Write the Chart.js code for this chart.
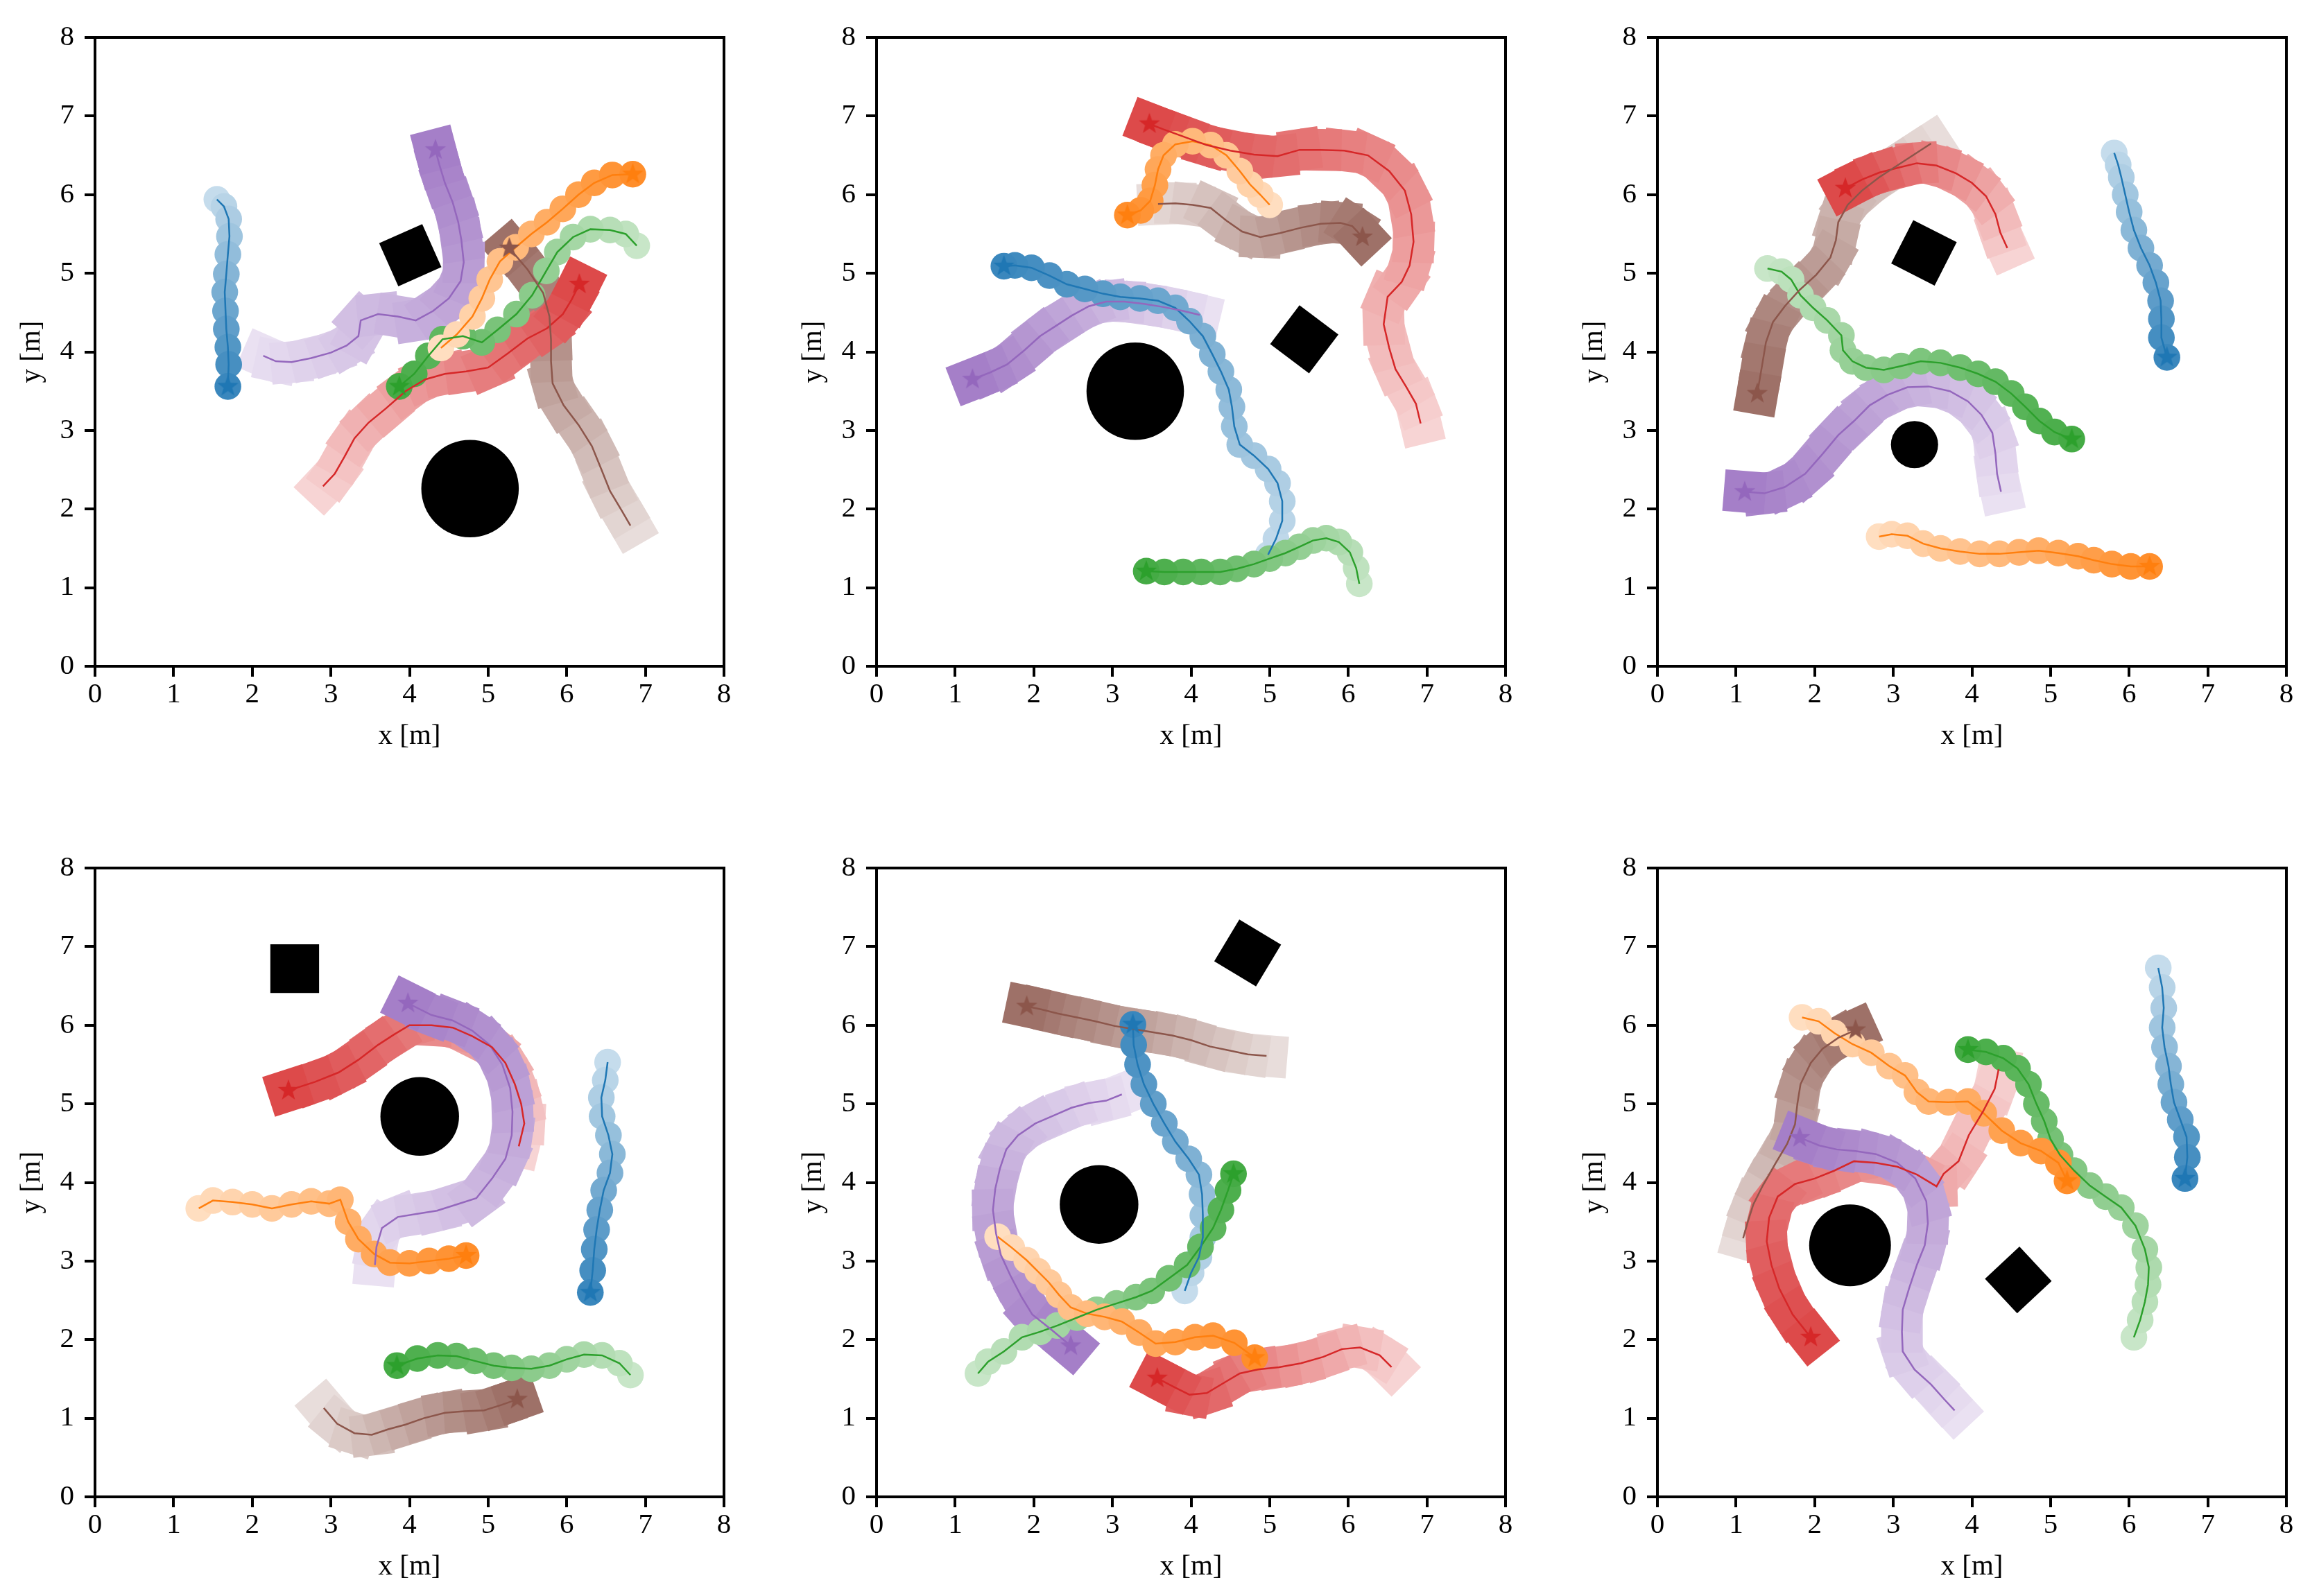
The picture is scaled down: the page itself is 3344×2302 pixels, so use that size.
<!DOCTYPE html>
<html>
<head>
<meta charset="utf-8">
<script src="https://cdn.jsdelivr.net/npm/chart.js@4.4.0/dist/chart.umd.min.js"></script>
<style>
  body { margin: 0; background: #fff; width: 3344px; height: 2302px; position: relative; overflow: hidden; }
  canvas { position: absolute; }
</style>
</head>
<body>
<canvas id="c1"></canvas><canvas id="c2"></canvas><canvas id="c3"></canvas>
<canvas id="c4"></canvas><canvas id="c5"></canvas><canvas id="c6"></canvas>
<script>
// axis ticks / titles
var tickValues = [0, 1, 2, 3, 4, 5, 6, 7, 8];
var xTitle = 'x [m]';
var yTitle = 'y [m]';

// obstacles: circle [x, y, r], square [x, y, side, rotation deg]
var p1Circle = [4.77, 2.26, 0.62], p1Square = [4.01, 5.23, 0.60, -24];
var p2Circle = [3.29, 3.50, 0.62], p2Square = [5.44, 4.16, 0.62, 37];
var p3Circle = [3.27, 2.82, 0.30], p3Square = [3.39, 5.26, 0.62, 27];
var p4Circle = [4.13, 4.84, 0.50], p4Square = [2.54, 6.72, 0.62, 0];
var p5Circle = [2.83, 3.72, 0.50], p5Square = [4.72, 6.92, 0.62, 31];
var p6Circle = [2.45, 3.20, 0.52], p6Square = [4.59, 2.76, 0.60, 47];

// trajectories, listed from the faded end to the star
var p1Blue = [[1.55,5.94],[1.64,5.85],[1.70,5.69],[1.71,5.47],[1.69,5.24],[1.67,4.99],[1.65,4.76],[1.66,4.52],[1.67,4.29],[1.69,4.06],[1.70,3.84],[1.69,3.56]];
var p1Orange = [[4.40,4.05],[4.60,4.22],[4.80,4.45],[4.92,4.68],[5.02,4.92],[5.15,5.15],[5.35,5.33],[5.55,5.50],[5.75,5.65],[5.95,5.82],[6.15,6.00],[6.35,6.15],[6.58,6.25],[6.84,6.26]];
var p1Green = [[6.89,5.35],[6.75,5.50],[6.55,5.55],[6.30,5.56],[6.08,5.46],[5.88,5.27],[5.74,5.03],[5.56,4.72],[5.36,4.48],[5.12,4.28],[4.92,4.12],[4.68,4.20],[4.42,4.16],[4.24,3.95],[4.06,3.72],[3.87,3.56]];
var p1Red = [[2.90,2.29],[3.05,2.45],[3.17,2.66],[3.30,2.90],[3.48,3.10],[3.70,3.28],[3.95,3.50],[4.20,3.65],[4.45,3.72],[4.72,3.75],[5.00,3.80],[5.25,3.98],[5.50,4.17],[5.75,4.30],[5.95,4.48],[6.06,4.66],[6.16,4.86]];
var p1Brown = [[6.81,1.79],[6.70,1.98],[6.55,2.23],[6.45,2.48],[6.32,2.80],[6.15,3.07],[5.96,3.32],[5.82,3.60],[5.80,3.88],[5.80,4.15],[5.78,4.45],[5.70,4.75],[5.50,5.05],[5.27,5.32]];
var p1Purple = [[2.14,3.95],[2.30,3.88],[2.50,3.87],[2.75,3.92],[3.00,3.99],[3.20,4.08],[3.35,4.20],[3.38,4.40],[3.60,4.48],[3.85,4.45],[4.08,4.40],[4.30,4.52],[4.50,4.68],[4.65,4.90],[4.69,5.14],[4.66,5.42],[4.62,5.65],[4.55,5.90],[4.45,6.15],[4.38,6.38],[4.33,6.57]];

var p2Blue = [[4.98,1.42],[5.08,1.62],[5.16,1.85],[5.16,2.10],[5.10,2.33],[4.98,2.51],[4.80,2.68],[4.62,2.82],[4.55,3.05],[4.52,3.30],[4.48,3.52],[4.38,3.75],[4.27,3.97],[4.15,4.20],[3.98,4.39],[3.80,4.56],[3.58,4.65],[3.35,4.68],[3.10,4.70],[2.88,4.74],[2.65,4.80],[2.42,4.86],[2.20,4.97],[1.97,5.07],[1.76,5.10],[1.62,5.09]];
var p2Orange = [[5.00,5.87],[4.88,6.00],[4.75,6.13],[4.62,6.30],[4.45,6.50],[4.25,6.63],[4.02,6.68],[3.80,6.64],[3.65,6.50],[3.58,6.32],[3.54,6.12],[3.48,5.92],[3.36,5.80],[3.19,5.74]];
var p2Green = [[6.14,1.05],[6.10,1.25],[6.02,1.45],[5.88,1.58],[5.72,1.63],[5.55,1.60],[5.38,1.52],[5.20,1.44],[5.00,1.37],[4.80,1.30],[4.58,1.24],[4.37,1.20],[4.13,1.20],[3.90,1.20],[3.66,1.20],[3.43,1.21]];
var p2Red = [[6.92,3.09],[6.86,3.34],[6.74,3.55],[6.60,3.78],[6.52,4.05],[6.45,4.35],[6.50,4.70],[6.68,4.89],[6.78,5.10],[6.83,5.40],[6.80,5.75],[6.72,6.05],[6.52,6.30],[6.25,6.50],[5.95,6.56],[5.65,6.57],[5.38,6.57],[5.10,6.49],[4.80,6.51],[4.50,6.56],[4.20,6.63],[3.90,6.74],[3.65,6.83],[3.47,6.90]];
var p2Brown = [[3.58,5.88],[3.80,5.89],[4.02,5.87],[4.25,5.83],[4.45,5.67],[4.65,5.53],[4.88,5.46],[5.13,5.51],[5.40,5.58],[5.65,5.63],[5.90,5.64],[6.05,5.60],[6.18,5.46]];
var p2Purple = [[4.11,4.47],[3.90,4.52],[3.65,4.57],[3.40,4.61],[3.15,4.64],[2.92,4.64],[2.70,4.58],[2.48,4.46],[2.28,4.33],[2.08,4.20],[1.88,4.02],[1.66,3.84],[1.45,3.74],[1.22,3.65]];

var p3Blue = [[5.81,6.53],[5.86,6.38],[5.90,6.22],[5.95,6.00],[6.00,5.78],[6.06,5.55],[6.15,5.32],[6.26,5.10],[6.34,4.88],[6.40,4.65],[6.41,4.42],[6.41,4.18],[6.48,3.93]];
var p3Orange = [[2.82,1.65],[2.98,1.68],[3.18,1.66],[3.38,1.56],[3.60,1.50],[3.85,1.46],[4.10,1.43],[4.35,1.43],[4.60,1.45],[4.85,1.47],[5.10,1.44],[5.35,1.40],[5.55,1.35],[5.78,1.30],[6.02,1.27],[6.26,1.27]];
var p3Green = [[1.40,5.06],[1.58,5.02],[1.70,4.92],[1.82,4.72],[1.98,4.56],[2.16,4.40],[2.34,4.21],[2.36,4.02],[2.48,3.88],[2.65,3.80],[2.88,3.77],[3.10,3.82],[3.35,3.88],[3.60,3.86],[3.85,3.80],[4.08,3.72],[4.30,3.62],[4.50,3.47],[4.68,3.30],[4.86,3.12],[5.05,2.98],[5.27,2.89]];
var p3Red = [[4.45,5.32],[4.36,5.52],[4.30,5.75],[4.18,5.98],[4.00,6.15],[3.80,6.27],[3.55,6.37],[3.30,6.40],[3.05,6.34],[2.82,6.28],[2.60,6.19],[2.39,6.08]];
var p3Brown = [[3.48,6.65],[3.28,6.52],[3.05,6.37],[2.82,6.22],[2.60,6.05],[2.42,5.87],[2.30,5.65],[2.27,5.42],[2.20,5.20],[2.02,4.98],[1.80,4.78],[1.62,4.58],[1.47,4.38],[1.38,4.12],[1.33,3.82],[1.27,3.47]];
var p3Purple = [[4.37,2.22],[4.32,2.45],[4.30,2.70],[4.26,2.97],[4.12,3.20],[3.95,3.37],[3.72,3.50],[3.45,3.56],[3.18,3.55],[2.92,3.45],[2.70,3.32],[2.50,3.12],[2.30,2.94],[2.10,2.70],[1.88,2.45],[1.62,2.28],[1.36,2.20],[1.11,2.22]];

var p4Blue = [[6.52,5.53],[6.49,5.30],[6.44,5.08],[6.45,4.84],[6.53,4.60],[6.58,4.36],[6.55,4.12],[6.47,3.90],[6.42,3.65],[6.38,3.40],[6.35,3.15],[6.33,2.88],[6.30,2.60]];
var p4Orange = [[1.32,3.67],[1.50,3.77],[1.75,3.75],[2.00,3.72],[2.25,3.67],[2.50,3.72],[2.75,3.76],[2.98,3.73],[3.12,3.78],[3.22,3.50],[3.35,3.28],[3.55,3.09],[3.75,2.98],[4.00,2.97],[4.25,3.00],[4.50,3.03],[4.72,3.07]];
var p4Green = [[6.81,1.55],[6.67,1.70],[6.45,1.80],[6.22,1.81],[6.00,1.75],[5.78,1.67],[5.55,1.63],[5.30,1.64],[5.07,1.67],[4.83,1.73],[4.60,1.79],[4.36,1.80],[4.10,1.76],[3.84,1.67]];
var p4Red = [[5.39,4.46],[5.46,4.75],[5.42,5.00],[5.34,5.25],[5.22,5.52],[5.05,5.72],[4.80,5.86],[4.55,5.97],[4.28,6.00],[4.00,6.00],[3.80,5.88],[3.60,5.75],[3.35,5.56],[3.10,5.40],[2.80,5.28],[2.46,5.17]];
var p4Brown = [[2.91,1.13],[3.08,0.93],[3.30,0.81],[3.52,0.79],[3.73,0.86],[3.95,0.92],[4.18,1.00],[4.45,1.07],[4.70,1.09],[4.95,1.10],[5.17,1.17],[5.37,1.24]];
var p4Purple = [[3.56,2.95],[3.58,3.18],[3.65,3.42],[3.85,3.56],[4.10,3.60],[4.35,3.64],[4.60,3.72],[4.85,3.80],[5.05,4.05],[5.22,4.30],[5.30,4.60],[5.31,4.90],[5.28,5.20],[5.18,5.50],[5.02,5.75],[4.80,5.93],[4.55,6.06],[4.28,6.13],[3.98,6.28]];

var p5Blue = [[3.92,2.62],[4.00,2.85],[4.10,3.05],[4.15,3.30],[4.15,3.58],[4.14,3.85],[4.10,4.10],[3.97,4.30],[3.80,4.52],[3.66,4.75],[3.52,5.00],[3.40,5.25],[3.32,5.50],[3.27,5.75],[3.26,6.01]];
var p5Orange = [[1.54,3.31],[1.72,3.17],[1.91,3.01],[2.05,2.87],[2.19,2.73],[2.32,2.57],[2.47,2.41],[2.68,2.33],[2.90,2.29],[3.12,2.23],[3.34,2.09],[3.55,1.95],[3.80,1.97],[4.05,2.03],[4.28,2.05],[4.55,1.96],[4.81,1.77]];
var p5Green = [[1.29,1.57],[1.42,1.72],[1.62,1.85],[1.85,2.03],[2.08,2.10],[2.30,2.18],[2.55,2.28],[2.80,2.38],[3.05,2.46],[3.30,2.54],[3.50,2.62],[3.72,2.78],[3.95,2.95],[4.12,3.18],[4.28,3.42],[4.38,3.65],[4.47,3.90],[4.54,4.11]];
var p5Red = [[6.55,1.65],[6.40,1.80],[6.15,1.90],[5.92,1.88],[5.68,1.78],[5.40,1.70],[5.12,1.65],[4.85,1.62],[4.62,1.57],[4.40,1.44],[4.20,1.32],[3.98,1.30],[3.78,1.40],[3.57,1.51]];
var p5Brown = [[4.96,5.61],[4.72,5.63],[4.48,5.68],[4.24,5.73],[4.00,5.81],[3.76,5.87],[3.52,5.91],[3.28,5.95],[3.03,5.99],[2.78,6.05],[2.55,6.10],[2.30,6.15],[2.10,6.20],[1.91,6.24]];
var p5Purple = [[3.12,5.12],[2.92,5.04],[2.70,5.01],[2.48,4.95],[2.25,4.85],[2.02,4.75],[1.80,4.60],[1.65,4.42],[1.57,4.18],[1.51,3.92],[1.48,3.65],[1.52,3.35],[1.58,3.08],[1.70,2.82],[1.84,2.55],[1.98,2.32],[2.22,2.13],[2.47,1.92]];

var p6Blue = [[6.37,6.73],[6.42,6.48],[6.44,6.22],[6.42,5.97],[6.45,5.72],[6.50,5.48],[6.53,5.25],[6.57,5.02],[6.65,4.80],[6.73,4.58],[6.74,4.32],[6.71,4.05]];
var p6Orange = [[1.84,6.10],[2.05,6.05],[2.25,5.90],[2.48,5.76],[2.72,5.65],[2.95,5.48],[3.15,5.36],[3.30,5.15],[3.45,5.03],[3.70,5.02],[3.95,5.03],[4.15,4.88],[4.38,4.66],[4.62,4.50],[4.88,4.40],[5.10,4.25],[5.21,4.02]];
var p6Green = [[6.06,2.03],[6.14,2.25],[6.20,2.48],[6.24,2.70],[6.25,2.92],[6.20,3.15],[6.08,3.45],[5.90,3.68],[5.70,3.82],[5.50,3.96],[5.30,4.15],[5.12,4.35],[5.00,4.55],[4.92,4.78],[4.82,5.00],[4.72,5.25],[4.58,5.45],[4.40,5.58],[4.18,5.66],[3.95,5.69]];
var p6Red = [[4.34,5.44],[4.29,5.19],[4.14,4.90],[3.96,4.60],[3.83,4.27],[3.64,4.11],[3.55,3.95],[3.30,4.10],[3.05,4.20],[2.78,4.25],[2.50,4.27],[2.25,4.15],[2.00,4.05],[1.75,3.98],[1.53,3.82],[1.42,3.55],[1.39,3.25],[1.45,2.95],[1.55,2.65],[1.72,2.32],[1.95,2.03]];
var p6Brown = [[1.09,3.29],[1.15,3.50],[1.22,3.72],[1.34,3.96],[1.50,4.24],[1.65,4.49],[1.75,4.74],[1.78,5.00],[1.82,5.25],[1.95,5.52],[2.10,5.70],[2.30,5.84],[2.52,5.94]];
var p6Purple = [[3.78,1.10],[3.64,1.25],[3.48,1.43],[3.27,1.62],[3.12,1.85],[3.11,2.10],[3.12,2.38],[3.20,2.65],[3.30,2.95],[3.40,3.20],[3.44,3.48],[3.42,3.76],[3.28,4.05],[3.05,4.25],[2.78,4.36],[2.52,4.40],[2.28,4.42],[2.06,4.47],[1.81,4.57]];

var panels = [
  { circle: p1Circle, square: p1Square, blue: p1Blue, orange: p1Orange, green: p1Green, red: p1Red, brown: p1Brown, purple: p1Purple },
  { circle: p2Circle, square: p2Square, blue: p2Blue, orange: p2Orange, green: p2Green, red: p2Red, brown: p2Brown, purple: p2Purple },
  { circle: p3Circle, square: p3Square, blue: p3Blue, orange: p3Orange, green: p3Green, red: p3Red, brown: p3Brown, purple: p3Purple },
  { circle: p4Circle, square: p4Square, blue: p4Blue, orange: p4Orange, green: p4Green, red: p4Red, brown: p4Brown, purple: p4Purple },
  { circle: p5Circle, square: p5Square, blue: p5Blue, orange: p5Orange, green: p5Green, red: p5Red, brown: p5Brown, purple: p5Purple },
  { circle: p6Circle, square: p6Square, blue: p6Blue, orange: p6Orange, green: p6Green, red: p6Red, brown: p6Brown, purple: p6Purple }
];

// where each axes box sits on the page (left, top)
var panelPos = [[137, 54], [1264, 54], [2390, 54], [137, 1252], [1264, 1252], [2390, 1252]];
var AXIS_PX = 907, LEFT_PAD = 140, TOP_PAD = 40;

// name, color, footprint, draw order (bigger = further below)
var agents = [
  ['brown', '#8c564b', 'rect', 60],
  ['red', '#d62728', 'rect', 59],
  ['purple', '#9467bd', 'rect', 58],
  ['blue', '#1f77b4', 'circle', 57],
  ['green', '#2ca02c', 'circle', 56],
  ['orange', '#ff7f0e', 'circle', 55]
];
var ROBOT_R = 0.17, ROBOT_SIDE = 0.53;
var FONT = "'Liberation Serif', 'Times New Roman', serif";
var FONT_SIZE = 41;

function mix(hex, a) {
  var r = parseInt(hex.substr(1, 2), 16), g = parseInt(hex.substr(3, 2), 16), b = parseInt(hex.substr(5, 2), 16);
  return 'rgb(' + Math.round(255 + (r - 255) * a) + ',' + Math.round(255 + (g - 255) * a) + ',' + Math.round(255 + (b - 255) * a) + ')';
}

function meters(ctx, m) {
  var s = ctx.chart.scales.x;
  return Math.abs(s.getPixelForValue(m) - s.getPixelForValue(0));
}

function heading(ctx) {
  var d = ctx.dataset.data, i = ctx.dataIndex;
  var a = d[Math.max(i - 1, 0)], b = d[Math.min(i + 1, d.length - 1)];
  return Math.atan2(-(b.y - a.y), b.x - a.x) * 180 / Math.PI;
}

function starImage(color) {
  var c = document.createElement('canvas');
  c.width = 34; c.height = 34;
  var g = c.getContext('2d');
  g.fillStyle = color;
  g.beginPath();
  for (var i = 0; i < 10; i++) {
    var r = i % 2 === 0 ? 16 : 6.5;
    var t = -Math.PI / 2 + i * Math.PI / 5;
    g.lineTo(17 + r * Math.cos(t), 17 + r * Math.sin(t));
  }
  g.closePath();
  g.fill();
  return c;
}

var framePlugin = {
  id: 'frame',
  afterDraw: function (chart) {
    var a = chart.chartArea, c = chart.ctx;
    c.save();
    c.strokeStyle = '#000';
    c.lineWidth = 4;
    c.strokeRect(a.left, a.top, a.right - a.left, a.bottom - a.top);
    c.restore();
  }
};

function buildDatasets(p) {
  var ds = [];
  ds.push({
    data: [{ x: p.circle[0], y: p.circle[1] }],
    pointStyle: 'circle',
    pointRadius: function (ctx) { return meters(ctx, p.circle[2]); },
    pointBackgroundColor: '#000', pointBorderWidth: 0, order: 100
  });
  ds.push({
    data: [{ x: p.square[0], y: p.square[1] }],
    pointStyle: 'rect',
    pointRadius: function (ctx) { return meters(ctx, p.square[2] * Math.SQRT1_2); },
    pointRotation: p.square[3],
    pointBackgroundColor: '#000', pointBorderWidth: 0, order: 100
  });
  agents.forEach(function (ag) {
    var pts = p[ag[0]].map(function (q) { return { x: q[0], y: q[1] }; });
    var n = pts.length;
    var isRect = ag[2] === 'rect';
    var a0 = isRect ? 0.2 : 0.26, a1 = isRect ? 0.84 : 0.88;
    var cols = pts.map(function (q, i) { return mix(ag[1], a0 + (a1 - a0) * i / (n - 1)); });
    ds.push({
      data: pts,
      pointStyle: ag[2],
      pointRadius: function (ctx) { return meters(ctx, isRect ? ROBOT_SIDE * Math.SQRT1_2 : ROBOT_R); },
      pointRotation: isRect ? heading : 0,
      pointBackgroundColor: cols,
      pointBorderWidth: 0,
      order: ag[3]
    });
    ds.push({
      data: pts, showLine: true, pointRadius: 0,
      borderColor: ag[1], borderWidth: 2.5, order: 10
    });
    ds.push({
      data: [pts[n - 1]], pointStyle: starImage(ag[1]), pointRadius: 16, order: 0
    });
  });
  return ds;
}

function axis(title, isX) {
  return {
    type: 'linear', min: 0, max: 8,
    afterBuildTicks: function (s) { s.ticks = tickValues.map(function (v) { return { value: v }; }); },
    afterFit: function (s) { if (isX) { s.height = 140; } else { s.width = 140; } },
    ticks: { font: { family: FONT, size: FONT_SIZE }, color: '#000', padding: isX ? 2 : 15, maxRotation: 0, autoSkip: false },
    grid: { drawOnChartArea: false, drawTicks: true, tickLength: 15, tickWidth: 4, lineWidth: 4, tickColor: '#000', color: '#000' },
    border: { display: false },
    title: {
      display: true, text: title, color: '#000',
      font: { family: FONT, size: FONT_SIZE },
      padding: isX ? { top: 0, bottom: 14 } : { top: 25, bottom: 0 }
    }
  };
}

panels.forEach(function (p, k) {
  var cv = document.getElementById('c' + (k + 1));
  var w = LEFT_PAD + AXIS_PX + 40, h = TOP_PAD + AXIS_PX + 140;
  cv.width = w; cv.height = h;
  cv.style.width = w + 'px'; cv.style.height = h + 'px';
  cv.style.left = (panelPos[k][0] - LEFT_PAD) + 'px';
  cv.style.top = (panelPos[k][1] - TOP_PAD) + 'px';
  new Chart(cv, {
    type: 'scatter',
    data: { datasets: buildDatasets(p) },
    options: {
      responsive: false,
      devicePixelRatio: 1,
      animation: false,
      events: [],
      layout: { padding: { left: 0, top: TOP_PAD, right: 40, bottom: 0 } },
      plugins: { legend: { display: false }, tooltip: { enabled: false }, colors: { enabled: false } },
      scales: { x: axis(xTitle, true), y: axis(yTitle, false) }
    },
    plugins: [framePlugin]
  });
});
</script>
</body>
</html>
